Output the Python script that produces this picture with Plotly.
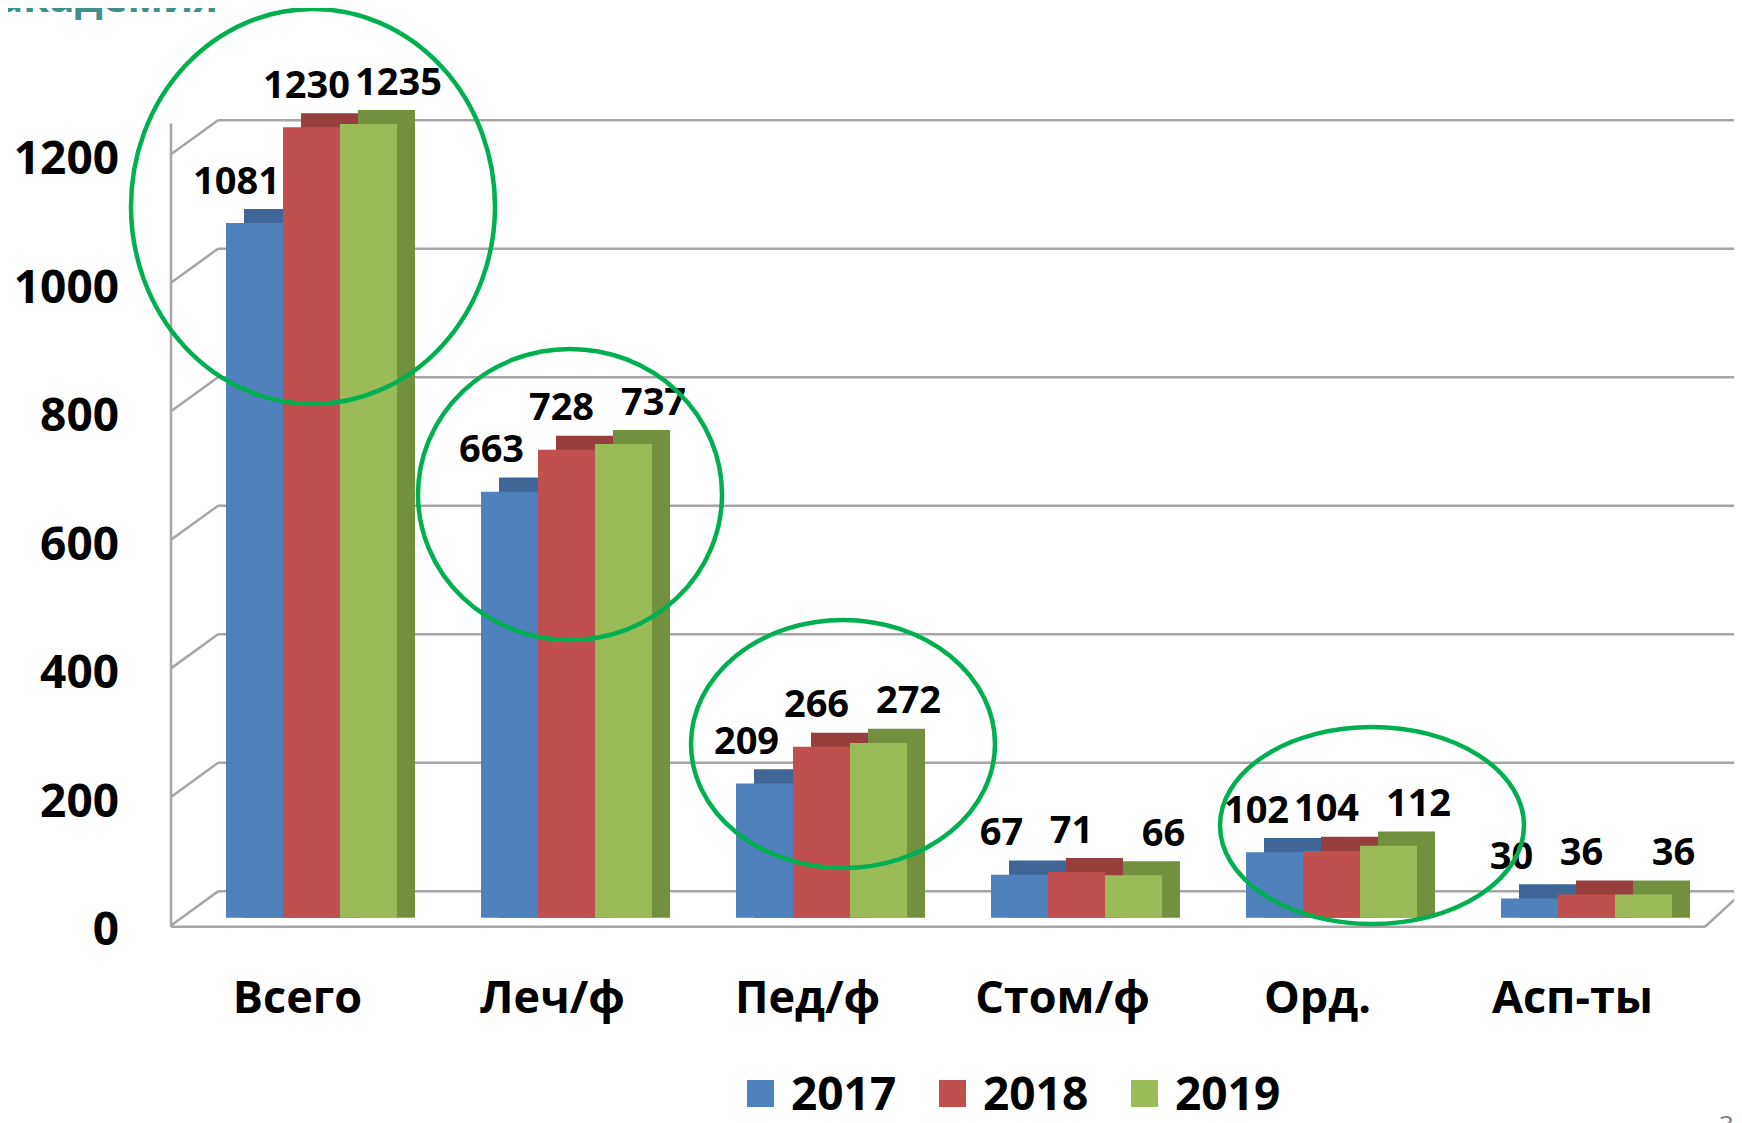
import numpy as np
import plotly.graph_objects as go

# --- data ---
categories = ['Всего', 'Леч/ф', 'Пед/ф', 'Стом/ф', 'Орд.', 'Асп-ты']
years = ['2017', '2018', '2019']
v2017 = [1081, 663, 209, 67, 102, 30]
v2018 = [1230, 728, 266, 71, 104, 36]
v2019 = [1235, 737, 272, 66, 112, 36]
y_ticks = [0, 200, 400, 600, 800, 1000, 1200]

series = [v2017, v2018, v2019]
front_cols = ['#4F81BD', '#C0504D', '#9BBB59']
top_cols = ['#3E6697', '#963F3C', '#73903F']

# --- page geometry (px); the html body adds an 8px margin ---
PAGE_W, PAGE_H, BODY = 1742, 1123, 8
W, H = PAGE_W - BODY, PAGE_H - BODY
L, R, T = 170 - BODY, 0, 63 - BODY
PW, PH = W - L - R, 874
B = H - T - PH
Y0, Y1 = -30, 1330
CAT_PX = 255.0

def px_x(px):
    # page px -> paper
    return (px - BODY - L) / PW

def px_y(py):
    return (T + PH - (py - BODY)) / PH

def val_y(v):
    return (v - Y0) / (Y1 - Y0)

x = np.arange(len(categories))
bw = 57 / CAT_PX          # bar width in category units
shift = 14 / CAT_PX       # bars sit a bit right of the label
dx = 18 / CAT_PX          # 3d depth
dy = 22                   # 3d depth in value units
offsets = [-1.5 * bw + shift, -0.5 * bw + shift, 0.5 * bw + shift]
lab_px = [-18, -5, 30]

fig = go.Figure()

# fake 3d: darker "back" boxes first, then fronts
for i in range(3):
    fig.add_trace(go.Bar(x=x, y=np.array(series[i]) + dy, width=bw,
                         offset=offsets[i] + dx, marker_color=top_cols[i],
                         marker_line_width=0, showlegend=False, hoverinfo='skip'))
for i in range(3):
    fig.add_trace(go.Bar(x=x, y=series[i], width=bw, offset=offsets[i],
                         marker_color=front_cols[i], marker_line_width=0,
                         name=years[i], showlegend=False))
for i in range(3):
    fig.add_trace(go.Scatter(x=x + offsets[i] + bw / 2 + lab_px[i] / CAT_PX,
                             y=np.array(series[i]) + 39 / (PH / (Y1 - Y0)),
                             mode='text', text=[str(v) for v in series[i]],
                             textposition='middle center',
                             textfont=dict(size=38, color='black', family='Open Sans', weight='bold'),
                             showlegend=False, hoverinfo='skip', cliponaxis=False))

shapes = []
grid = dict(color='#A6A6A6', width=2.5)
back_x = px_x(218)
left_x = px_x(171)
for v in y_ticks:
    shapes.append(dict(type='line', xref='paper', yref='paper', layer='below',
                       x0=back_x, x1=1.02, y0=val_y(v + 41), y1=val_y(v + 41), line=grid))
    shapes.append(dict(type='line', xref='paper', yref='paper', layer='below',
                       x0=left_x, x1=back_x, y0=val_y(v - 12), y1=val_y(v + 41), line=grid))
shapes.append(dict(type='line', xref='paper', yref='paper', layer='below',
                   x0=left_x, x1=left_x, y0=val_y(-14), y1=val_y(1236), line=grid))
shapes.append(dict(type='line', xref='paper', yref='paper', layer='below',
                   x0=left_x, x1=px_x(1705), y0=val_y(-14), y1=val_y(-14), line=grid))
shapes.append(dict(type='line', xref='paper', yref='paper', layer='below',
                   x0=px_x(1705), x1=px_x(1745), y0=val_y(-14), y1=val_y(43), line=grid))

# hand-drawn green ellipses (page px boxes)
ellipses = [(131, 9, 495, 404), (418, 349, 722, 640), (691, 620, 995, 868), (1220, 727, 1524, 924)]
for x0, y0, x1, y1 in ellipses:
    shapes.append(dict(type='circle', xref='paper', yref='paper', layer='above',
                       x0=px_x(x0), x1=px_x(x1), y0=px_y(y1), y1=px_y(y0),
                       line=dict(color='#00B050', width=4.5)))

# legend drawn by hand to get the big squares
annotations = []
sq_left = [747, 939, 1131]
for i in range(3):
    shapes.append(dict(type='rect', xref='paper', yref='paper', layer='above',
                       x0=px_x(sq_left[i]), x1=px_x(sq_left[i] + 27),
                       y0=px_y(1107), y1=px_y(1080), fillcolor=front_cols[i], line_width=0))
    annotations.append(dict(text=years[i], xref='paper', yref='paper', showarrow=False,
                            x=px_x(sq_left[i] + 42), y=px_y(1092), xanchor='left', yanchor='middle',
                            font=dict(size=46, color='black', family='Open Sans', weight='bold')))

annotations.append(dict(text='академия', xref='paper', yref='paper', showarrow=False,
                        x=px_x(-4), y=px_y(-5), xanchor='left', yanchor='middle',
                        font=dict(size=42, color='#3F8F8A', family='Open Sans', weight='bold')))
annotations.append(dict(text='3', xref='paper', yref='paper', showarrow=False,
                        x=px_x(1726), y=px_y(1124), xanchor='center', yanchor='middle',
                        font=dict(size=26, color='#808080', family='Open Sans')))

fig.update_layout(
    width=W, height=H,
    margin=dict(l=L, r=R, t=T, b=B),
    plot_bgcolor='white', paper_bgcolor='white',
    barmode='overlay',
    showlegend=False,
    shapes=shapes, annotations=annotations,
    font=dict(family='Open Sans', color='black'),
    xaxis=dict(domain=[0, 1530 / PW], range=[-0.5, 5.5], tickvals=x, ticktext=categories,
               showgrid=False, zeroline=False, showline=False, ticks='',
               ticklabelstandoff=30,
               tickfont=dict(size=45, color='black', family='Open Sans', weight='bold')),
    yaxis=dict(range=[Y0, Y1], showgrid=False, zeroline=False, showticklabels=False,
               showline=False, ticks=''),
    yaxis2=dict(range=[Y0 + 18, Y1 + 18], overlaying='y', anchor='x', side='left',
                tickvals=y_ticks, showgrid=False, zeroline=False, showline=False, ticks='',
                ticklabelstandoff=50,
                tickfont=dict(size=46, color='black', family='Open Sans', weight='bold')),
)
# invisible trace so the label axis exists
fig.add_trace(go.Scatter(x=[None], y=[None], yaxis='y2', showlegend=False, hoverinfo='skip'))

fig.write_html("out.html")
